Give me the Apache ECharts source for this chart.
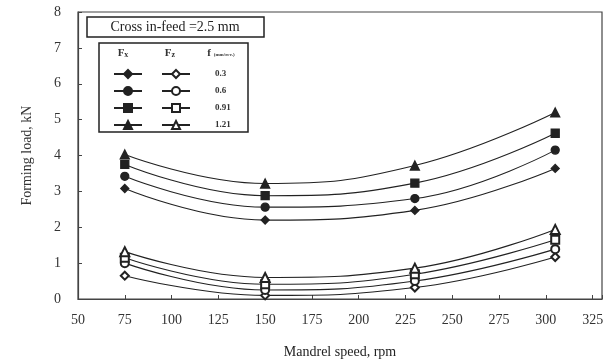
<!DOCTYPE html>
<html><head><meta charset="utf-8">
<script src="https://cdn.jsdelivr.net/npm/echarts@6/dist/echarts.min.js"></script>
<style>html,body{margin:0;padding:0;background:#fff}#c{width:609px;height:364px}</style>
</head><body><div id="c"></div>
<script>
var speeds = [75, 150, 230, 305];
var feeds = ['0.3', '0.6', '0.91', '1.21'];
var fx03 = [3.08, 2.2, 2.47, 3.64];
var fx06 = [3.42, 2.56, 2.8, 4.15];
var fx091 = [3.75, 2.88, 3.23, 4.62];
var fx121 = [4.03, 3.22, 3.72, 5.2];
var fz03 = [0.65, 0.1, 0.32, 1.17];
var fz06 = [1.0, 0.25, 0.5, 1.39];
var fz091 = [1.15, 0.41, 0.69, 1.65];
var fz121 = [1.32, 0.6, 0.86, 1.94];
var xTicks = [50, 75, 100, 125, 150, 175, 200, 225, 250, 275, 300, 325];

var FONT = 'Liberation Serif';
var C = '#222';
function pts(v){ return speeds.map(function(s,i){ return [s, v[i]]; }); }
function mk(name, vals, sym){
  return {
    name: name, type: 'line', data: pts(vals), smooth: 0.45,
    symbol: sym, symbolSize: sym.toLowerCase().indexOf('triangle')>=0 ? 9 : 8,
    lineStyle: {color: C, width: 1.1},
    itemStyle: {color: C, borderColor: C, borderWidth: 1.3},
    emphasis: {disabled: true}
  };
}
var fxSyms = ['diamond', 'circle', 'rect', 'triangle'];
var fzSyms = ['emptyDiamond', 'emptyCircle', 'emptyRect', 'emptyTriangle'];
var fxData = [fx03, fx06, fx091, fx121];
var fzData = [fz03, fz06, fz091, fz121];
var series = [];
feeds.forEach(function(f,i){ series.push(mk('Fx ' + f, fxData[i], fxSyms[i])); });
feeds.forEach(function(f,i){ series.push(mk('Fz ' + f, fzData[i], fzSyms[i])); });

var chart = echarts.init(document.getElementById('c'), null, {renderer: 'canvas'});
chart.setOption({
  animation: false,
  backgroundColor: '#fff',
  grid: {left: 78, right: 7, top: 12, bottom: 64, show: true, borderColor: '#444', borderWidth: 1.2, backgroundColor: 'transparent'},
  xAxis: {
    type: 'value', min: 50, max: 330, interval: 25,
    name: 'Mandrel speed, rpm', nameLocation: 'middle', nameGap: 46,
    nameTextStyle: {fontFamily: FONT, fontSize: 14, color: '#222'},
    axisLine: {lineStyle: {color: '#444', width: 1.2}},
    axisTick: {inside: true, length: 4, lineStyle: {color: '#444'}},
    axisLabel: {fontFamily: FONT, fontSize: 14, color: '#333', margin: 14,
      formatter: function(v){ return xTicks.indexOf(v) >= 0 ? String(v) : ''; }},
    splitLine: {show: false}
  },
  yAxis: {
    type: 'value', min: 0, max: 8, interval: 1,
    name: 'Forming load, kN', nameLocation: 'middle', nameGap: 44,
    nameTextStyle: {fontFamily: FONT, fontSize: 14, color: '#333'},
    axisLine: {lineStyle: {color: '#444', width: 1.2}},
    axisTick: {inside: true, length: 4, lineStyle: {color: '#444'}},
    axisLabel: {fontFamily: FONT, fontSize: 14, color: '#333', margin: 17},
    splitLine: {show: false}
  },
  legend: [
    {
      data: series.slice(0,4).map(function(s){ return s.name; }),
      orient: 'vertical', left: 108, top: 64, itemWidth: 28, itemHeight: 10, itemGap: 7,
      formatter: function(){ return ''; }, selectedMode: false,
      textStyle: {fontSize: 1}
    },
    {
      data: series.slice(4).map(function(s){ return s.name; }),
      orient: 'vertical', left: 156, top: 64, itemWidth: 28, itemHeight: 10, itemGap: 7,
      formatter: function(n){ return n.replace('Fz ', ''); }, selectedMode: false,
      textStyle: {fontFamily: FONT, fontSize: 9, fontWeight: 'bold', color: '#333', padding: [0,0,0,20]}
    }
  ],
  graphic: [
    {type: 'rect', shape: {x: 87, y: 17, width: 177, height: 20}, style: {fill: '#fff', stroke: '#222', lineWidth: 1.5}, z: 10},
    {type: 'text', x: 175, y: 27, style: {text: 'Cross in-feed =2.5 mm', font: '14px "Liberation Serif"', fill: '#222', align: 'center', verticalAlign: 'middle'}, z: 11},
    {type: 'rect', shape: {x: 99, y: 43, width: 149, height: 89}, style: {fill: 'none', stroke: '#222', lineWidth: 1.5}, z: 10},
    {type: 'text', x: 123, y: 53, style: {text: 'F{s|x}', font: 'bold 11px "Liberation Serif"', fill: '#333', align: 'center', verticalAlign: 'middle', rich: {s: {fontSize: 8, fontWeight: 'bold', fontFamily: FONT, padding: [3,0,0,0]}}}, z: 11},
    {type: 'text', x: 170, y: 53, style: {text: 'F{s|z}', font: 'bold 11px "Liberation Serif"', fill: '#333', align: 'center', verticalAlign: 'middle', rich: {s: {fontSize: 8, fontWeight: 'bold', fontFamily: FONT, padding: [3,0,0,0]}}}, z: 11},
    {type: 'text', x: 221, y: 53, style: {text: 'f {s|(mm/rev.)}', font: 'bold 11px "Liberation Serif"', fill: '#333', align: 'center', verticalAlign: 'middle', rich: {s: {fontSize: 5, fontWeight: 'bold', fontFamily: FONT, padding: [3,0,0,0]}}}, z: 11}
  ],
  series: series
});
</script>
</body></html>
